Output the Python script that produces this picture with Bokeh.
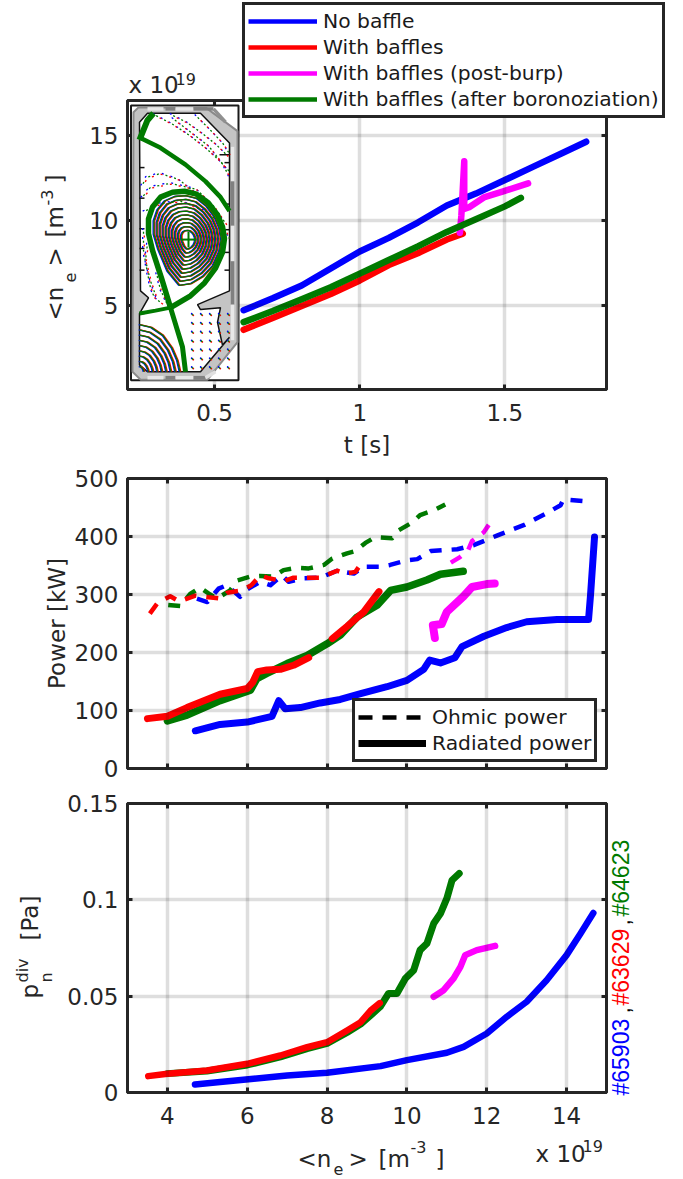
from bokeh.plotting import figure
from bokeh.layouts import column
from bokeh.models import Range1d, LinearAxis, FixedTicker, Legend, LegendItem, Label
from bokeh.embed import file_html
from bokeh.resources import INLINE
import numpy as np

NAN = float("nan")
BLUE, RED, MAG, GREEN = "#0000ff", "#ff0000", "#ff00ff", "#007a00"
INK = "#262626"

# ---------- panel 1: density versus time
t_blue = [.6,.7,.8,.9,1.0,1.1,1.2,1.3,1.4,1.5,1.6,1.7,1.78]
n_blue = [4.75,5.45,6.2,7.2,8.2,9.0,9.9,10.9,11.6,12.4,13.2,14.0,14.65]
t_red = [.6,.7,.8,.9,1.0,1.1,1.2,1.3,1.355]
n_red = [3.6,4.3,5.0,5.7,6.5,7.4,8.1,8.9,9.25]
t_green = [.6,.7,.8,.9,1.0,1.1,1.2,1.3,1.4,1.5,1.555]
n_green = [4.05,4.7,5.4,6.1,6.9,7.7,8.5,9.35,10.1,10.85,11.35]
t_mag = [1.345,1.35,1.36,1.36,1.377,1.43,1.497,1.58]
n_mag = [9.3,10.3,13.5,10.7,10.8,11.4,11.75,12.2]

# ---------- panel 2: power versus density
ne_rad_blue = [4.7,5.32,6,6.62,6.79,6.95,7.33,7.83,8.33,8.84,9.5,10,10.42,10.57,10.84,11.2,11.38,11.93,12.5,13,13.76,14.55,14.6,14.7]
p_rad_blue = [65,76,80,90,117,103,105,113,119,129,141,152,171,187,182,191,210,228,243,253,257,257,299,399]
ne_rad_red = [3.5,4,4.49,5.32,6,6.14,6.26,6.49,6.83,7.16,7.54,NAN,8.13,8.5,8.92,9.3]
p_rad_red = [86,90,105,128,138,149,167,170,171,178,191,NAN,224,245,270,305]
ne_rad_green = [4,4.49,5.32,6.08,6.24,6.49,7,7.5,8,8.33,8.75,9.26,9.59,10,10.5,10.84,11.41]
p_rad_green = [82,92,117,135,155,164,181,195,215,230,261,282,307,313,325,335,340]
ne_rad_mag = [10.7,10.65,10.87,11,11.42,11.63,12,12.2]
p_rad_mag = [225,247,249,270,297,313,318,319]

ne_ohm_blue = [4.74,5,5.28,5.49,5.82,5.95,6.33,6.58,6.87,7.04,7.41,7.83,8.25,8.67,8.92,9.33,9.58,10,10.26,10.6,11.26,11.67,12.27,12.94,13.5,13.85,13.92,14.43]
p_ohm_blue = [293,287,310,316,296,307,322,316,333,322,328,329,341,336,348,348,351,359,361,375,378,385,402,420,440,454,464,461]
ne_ohm_red = [3.56,3.75,4.07,4.3,4.7,5.32,5.5,5.87,6.1,6.33,6.54,6.91,7.16,7.83,8.25,8.44,8.71,8.84]
p_ohm_red = [267,285,297,288,298,293,303,307,316,333,328,323,329,329,341,336,339,352]
ne_ohm_green = [4.02,4.32,4.57,4.82,5.07,5.24,5.57,5.74,6.08,6.33,6.66,6.91,7.24,7.54,7.92,8.13,8.5,8.71,8.96,9.21,9.63,9.8,10.13,10.33,10.67,10.96]
p_ohm_green = [282,280,301,312,300,293,307,324,331,332,331,342,346,345,351,362,371,375,389,399,397,411,424,437,445,455]
ne_ohm_mag = [11.1,11.32,11.53,11.63,11.92,12.05]
p_ohm_mag = [355,364,376,392,407,420]

# ---------- panel 3: divertor neutral pressure versus density
ne_div_blue = [4.69,5.32,6.16,7,8,9.34,10,11,11.42,12,12.5,13,13.5,14,14.35,14.67]
p_div_blue = [.0042,.0054,.0071,.0088,.0102,.0137,.0168,.0206,.0237,.0306,.0393,.0471,.0583,.0713,.0825,.0932]
ne_div_red = [3.52,4,4.99,6,6.83,7.5,8,8.5,8.84,9.09,9.32]
p_div_red = [.0085,.0097,.0114,.0149,.0192,.0235,.0261,.0322,.0365,.0425,.0464]
ne_div_green = [4,4.99,6,6.83,7.5,8,8.5,8.84,9.09,9.33,9.54,9.75,9.96,10.17,10.33,10.5,10.67,10.84,11,11.13,11.31]
p_div_green = [.0098,.0112,.0143,.0185,.0228,.0255,.0312,.0355,.04,.0445,.0514,.0514,.0592,.0635,.0739,.0773,.0877,.0929,.1007,.1102,.1137]
ne_div_mag = [10.67,10.92,11.17,11.34,11.46,11.75,12.21]
p_div_mag = [.0497,.0531,.0592,.0652,.0713,.0739,.0761]

# ---------- ticks and texts
t_ticks = [0.5, 1, 1.5]
t_tick_labels = ["0.5", "1", "1.5"]
ne_ticks_p1 = [5, 10, 15]
ne_ticks = [4, 6, 8, 10, 12, 14]
power_ticks = [0, 100, 200, 300, 400, 500]
pdiv_ticks = [0, 0.05, 0.1, 0.15]
pdiv_tick_labels = ["0", "0.05", "0.1", "0.15"]
legend_top = ["No baffle", "With baffles", "With baffles (post-burp)", "With baffles (after boronoziation)"]
legend_colors = [BLUE, RED, MAG, GREEN]
legend_power = ["Ohmic power", "Radiated power"]

# ---------- inset drawing (machine cross-section, in page pixels)
box_x, box_y = [130.5, 238, 238, 130.5], [105, 105, 383.5, 383.5]
wall_outer_x = [133, 138, 205, 237, 237, 207, 140, 132]
wall_outer_y = [112, 107, 107, 131, 345, 383, 383, 375]
wall_inner_x = [139,147,200,229,229,197,200,220,217,222,229,200,147,139,139,148,140]
wall_inner_y = [122,113,113,143,293,307,312,310,325,348,340,375,375,368,316,300,293]
tile_x0 = [147,165,175,193,213, 147,165,175,193,205, 232,232,232,232,232]
tile_y0 = [108.5,108.5,108.5,108.5,108.5, 381,381,381,381,381, 147,182,227,263,307]
tile_x1 = [163,175,193,213,225, 163,175,193,205,215, 232,232,232,232,232]
tile_y1 = [108.5,108.5,108.5,108.5,122, 381,381,381,381,375, 182,227,263,307,343]
tile_col = ["#e8e8e8","#808080","#e8e8e8","#808080","#909090","#e8e8e8","#808080","#e8e8e8","#808080","#e0e0e0",
            "#e8e8e8","#808080","#e8e8e8","#808080","#e8e8e8"]
lcfs_x = [170,161,152,148,148,152,160,172,184,196,208,217,222,224,222,215,204,190,170]
lcfs_y = [310,280,252,235,220,208,198,193,192,195,204,216,228,240,254,270,285,298,310]
core_x = [178,165,155,150,150,154,162,173,185,197,208,217,222,224,222,215,204,191,178]
core_y = [292,276,252,235,220,208,198,193,192,195,204,216,228,240,254,270,282,290,292]
axis_x, axis_y = 188.0, 241.0
core_levels = [.91,.83,.75,.67,.59,.51,.43,.35,.27,.19]
leg_x = [[170,176,182,185],[170,155,139],[140,160,185,205,220,229],[139,147,153]]
leg_y = [[310,330,350,375],[310,313,316],[138,148,165,182,198,212],[140,120,113]]
leg_w = [5, 4, 4.5, 6]
arc_x = [0,13,26,36,42,45]
arc_y = [53,50,41,27,13,0]
arc_levels = [.9,.8,.7,.6,.5,.4,.3,.2,.1]
dot_curves_x = [[141,146,160,178,198,215,225],[141,150,170,196,214,226],[143,158,180,205,222,229],
                [172,190,208,222,229],[195,208,222,229],[153,172,190,205,218,229],[170,186,200,215,227],
                [143,143,147,150,154,162],[147,145,150,156],[156,160,166,170]]
dot_curves_y = [[187,178,174,180,196,216,232],[199,188,184,190,208,226],[213,205,202,212,226,240],
                [118,132,146,164,178],[115,128,143,154],[114,124,136,148,160,172],[114,122,132,144,156],
                [230,252,275,290,300,306],[245,262,283,300],[275,292,305,312]]
grid_dot_x = [192,201,210,219,228]
grid_dot_y = [317,326,335,344,353,362,371]
wall_tick_x0 = [139,139,139,139,139,139,219,224,224,224,224,224]
wall_tick_x1 = [144,144,144,144,144,144,229,229,229,229,229,229]
wall_tick_y = [168,199,230,250,272,316,155,163,205,231,254,272]


def base(height, top, bottom, xr, yr, py0, py1):
    p = figure(width=683, height=height, x_range=xr, y_range=yr, output_backend="svg", toolbar_location=None,
               min_border_left=127, min_border_right=77, min_border_top=top, min_border_bottom=bottom,
               x_axis_location="below", y_axis_location="left", background_fill_color="white")
    p.extra_x_ranges["px"] = Range1d(127, 606)
    p.extra_y_ranges["py"] = Range1d(py0, py1)
    p.outline_line_color = INK
    p.outline_line_width = 3
    for g in p.grid:
        g.grid_line_color = "#000000"
        g.grid_line_alpha = 0.13
        g.grid_line_width = 3.5
        g.level = "guide"
    return p


def style_axis(ax, ticks, overrides=None, blank=False, standoff=9):
    ax.ticker = FixedTicker(ticks=ticks)
    ax.axis_line_color = INK
    ax.axis_line_width = 3
    ax.major_tick_line_color = INK
    ax.major_tick_line_width = 3
    ax.major_tick_in = 5
    ax.major_tick_out = 0
    ax.minor_tick_line_color = None
    ax.major_label_text_font = "DejaVu Sans"
    ax.major_label_text_font_size = "23px"
    ax.major_label_text_color = INK
    ax.major_label_standoff = standoff
    ax.axis_label_text_font = "DejaVu Sans"
    ax.axis_label_text_font_size = "23px"
    ax.axis_label_text_font_style = "normal"
    ax.axis_label_text_color = INK
    if overrides:
        ax.major_label_overrides = overrides
    if blank:
        ax.major_label_text_font_size = "0px"
        ax.major_label_text_color = None


def frame_axes(p, xt, yt, xlab=None, ylab=None):
    style_axis(p.below[0], xt, xlab, blank=xlab is None, standoff=14)
    style_axis(p.left[0], yt, ylab)
    p.xgrid[0].ticker = FixedTicker(ticks=xt)
    p.ygrid[0].ticker = FixedTicker(ticks=yt)
    top = LinearAxis()
    right = LinearAxis()
    style_axis(top, xt, blank=True)
    style_axis(right, yt, blank=True)
    p.add_layout(top, "above")
    p.add_layout(right, "right")


def curve(p, x, y, color, width, dash="solid"):
    return p.line(x, y, line_color=color, line_width=width, line_dash=dash, line_cap="round" if dash == "solid" else "butt",
                  line_join="round")


# ---------- panel 1
p1 = base(460, 100, 67, Range1d(0.2, 1.85), Range1d(0.093, 17.07), 393, 100)
frame_axes(p1, t_ticks, ne_ticks_p1, {t: s for t, s in zip(t_ticks, t_tick_labels)}, None)
curve(p1, t_blue, n_blue, BLUE, 6.5)
curve(p1, t_red, n_red, RED, 6.5)
curve(p1, t_mag, n_mag, MAG, 6.5)
curve(p1, t_green, n_green, GREEN, 6.5)
p1.below[0].axis_label = "t [s]"
p1.below[0].axis_label_standoff = 8

kw = dict(x_range_name="px", y_range_name="py", level="annotation")
p1.patch(box_x, box_y, fill_color="white", line_color="#1a1a1a", line_width=2, **kw)
p1.patch(wall_outer_x, wall_outer_y, fill_color="#c4c4c4", line_color="#8a8a8a", line_width=2, **kw)
p1.segment(tile_x0, tile_y0, tile_x1, tile_y1, line_color=tile_col, line_width=3.5, **kw)
p1.patch(wall_inner_x, wall_inner_y, fill_color="white", line_color="#111111", line_width=1.5, **kw)
p1.segment(wall_tick_x0, wall_tick_y, wall_tick_x1, wall_tick_y, line_color="#111111", line_width=1.5, **kw)
for col, off, phase in ((BLUE, -0.8, 0), (RED, 0.8, 3), (GREEN, 0, 6)):
    for cx, cy in zip(dot_curves_x, dot_curves_y):
        p1.line(np.array(cx) + off, np.array(cy) + off, line_color=col, line_width=1.3, line_dash="2 7",
                line_dash_offset=phase, **kw)
    gx, gy = np.meshgrid(grid_dot_x, grid_dot_y)
    p1.scatter(gx.ravel() + off, gy.ravel() + off, size=1.8, marker="circle", fill_color=col, line_color=None, **kw)
    xs = [list(axis_x + (np.array(core_x) - axis_x) * k + off) for k in core_levels]
    ys = [list(axis_y + (np.array(core_y) - axis_y) * k) for k in core_levels]
    p1.multi_line(xs, ys, line_color=col, line_width=1.3, **kw)
    xs = [list(139 + np.array(arc_x) * k + off) for k in arc_levels]
    ys = [list(375 - np.array(arc_y) * k) for k in arc_levels]
    p1.multi_line(xs, ys, line_color=col, line_width=1.3, **kw)
p1.segment([axis_x - 8, axis_x], [axis_y, axis_y - 8], [axis_x + 8, axis_x], [axis_y, axis_y + 8], line_color=GREEN,
           line_width=2, **kw)
p1.line(lcfs_x, lcfs_y, line_color=GREEN, line_width=5.5, **kw)
p1.multi_line(leg_x, leg_y, line_color=GREEN, line_width=leg_w, **kw)

# ---------- panel 2
p2 = base(330, 18, 22, Range1d(3, 15), Range1d(0, 500), 768, 478)
frame_axes(p2, ne_ticks, power_ticks)
p2.left[0].axis_label = "Power [kW]"
p2.left[0].axis_label_standoff = 2
curve(p2, ne_ohm_blue, p_ohm_blue, BLUE, 4.5, "12 10")
curve(p2, ne_ohm_mag, p_ohm_mag, MAG, 4.5, "12 10")
curve(p2, ne_ohm_green, p_ohm_green, GREEN, 4.5, "12 10")
curve(p2, ne_ohm_red, p_ohm_red, RED, 4.5, "12 10")
curve(p2, ne_rad_blue, p_rad_blue, BLUE, 7)
curve(p2, ne_rad_mag, p_rad_mag, MAG, 8)
curve(p2, ne_rad_green, p_rad_green, GREEN, 7.5)
curve(p2, ne_rad_red, p_rad_red, RED, 7)
k1 = p2.line([NAN, NAN], [NAN, NAN], line_color="black", line_width=4.5, line_dash="14 10")
k2 = p2.line([NAN, NAN], [NAN, NAN], line_color="black", line_width=7)
leg2 = Legend(items=[LegendItem(label=legend_power[0], renderers=[k1]), LegendItem(label=legend_power[1], renderers=[k2])],
              location=(225, 6), border_line_color=INK, border_line_width=3, border_line_alpha=1,
              background_fill_color="white", background_fill_alpha=1, margin=0, padding=3, spacing=0, label_standoff=6,
              glyph_width=68, glyph_height=26, label_height=26, label_text_font="DejaVu Sans",
              label_text_font_size="20.3px", label_text_color="#1a1a1a")
p2.add_layout(leg2, "center")

# ---------- panel 3
p3 = base(389, 13, 87, Range1d(3, 15), Range1d(0, 0.15), 1092, 803)
frame_axes(p3, ne_ticks, pdiv_ticks, {t: str(t) for t in ne_ticks}, {t: s for t, s in zip(pdiv_ticks, pdiv_tick_labels)})
curve(p3, ne_div_blue, p_div_blue, BLUE, 6.5)
curve(p3, ne_div_mag, p_div_mag, MAG, 6.5)
curve(p3, ne_div_green, p_div_green, GREEN, 7)
curve(p3, ne_div_red, p_div_red, RED, 6.5)

# ---------- transparent page-sized overlay for everything that sits outside a frame
ov = figure(width=683, height=1179, x_range=Range1d(0, 683), y_range=Range1d(1179, 0), output_backend="svg",
            toolbar_location=None, min_border=0, x_axis_type=None, y_axis_type=None, background_fill_color=None,
            border_fill_color=None, margin=(-1179, 0, 0, 0), frame_align=False)
ov.grid.visible = False
ov.outline_line_color = None
dummies = [ov.line([NAN, NAN], [NAN, NAN], line_color=c, line_width=4.5) for c in legend_colors]
leg1 = Legend(items=[LegendItem(label=s, renderers=[r]) for s, r in zip(legend_top, dummies)],
              location=(242, 1061), orientation="vertical", border_line_color=INK, border_line_width=3,
              border_line_alpha=1, background_fill_color="white", background_fill_alpha=1, margin=0, padding=3,
              spacing=0, label_standoff=6, glyph_width=69, glyph_height=26, label_height=26,
              label_text_font="DejaVu Sans", label_text_font_size="20.3px", label_text_color="#1a1a1a")
ov.add_layout(leg1, "center")


def txt(x, y, s, size=23, color=INK, angle=0.0, font="DejaVu Sans"):
    # the browser sets these labels lower than their anchor; take that back off across the reading direction
    shift = 0.25 * size + 2.5
    if angle:
        x -= shift
    else:
        y -= shift
    ov.add_layout(Label(x=x, y=y, text=s, text_font=font, text_font_size=f"{size}px", text_color=color, angle=angle,
                        angle_units="deg", text_align="left", text_baseline="alphabetic"))


for x, y, s, size in ((63, 320, "<n", 23), (76, 282, "e", 16), (63, 266, ">", 23), (63, 237, "[m", 23),
                      (53, 205, "-3", 16), (63, 183, "]", 23)):
    txt(x, y, s, size, angle=90)
txt(128, 93, "x 10", 23)
txt(175, 85, "19", 16)
for x, y, s, size in ((297, 1167, "<n", 23), (333, 1175, "e", 16), (348, 1167, ">", 23), (378, 1167, "[m", 23),
                      (410, 1153, "-3", 16), (435, 1167, "]", 23)):
    txt(x, y, s, size)
txt(535, 1162, "x 10", 23)
txt(582, 1152, "19", 16)
for x, y, s, size in ((38, 998, "p", 23), (52, 982, "n", 16), (28, 982, "div", 16), (38, 940, "[Pa]", 23)):
    txt(x, y, s, size, angle=90)
for y, s, c in ((1095, "#65903", BLUE), (1013, ",", "black"), (1005, "#63629", RED), (925, ",", "black"),
                (916, "#64623", GREEN)):
    txt(629, y, s, 23, color=c, angle=90, font="Liberation Sans")

page = column(p1, p2, p3, ov, spacing=0)
open("out.html", "w").write(file_html(page, INLINE))
